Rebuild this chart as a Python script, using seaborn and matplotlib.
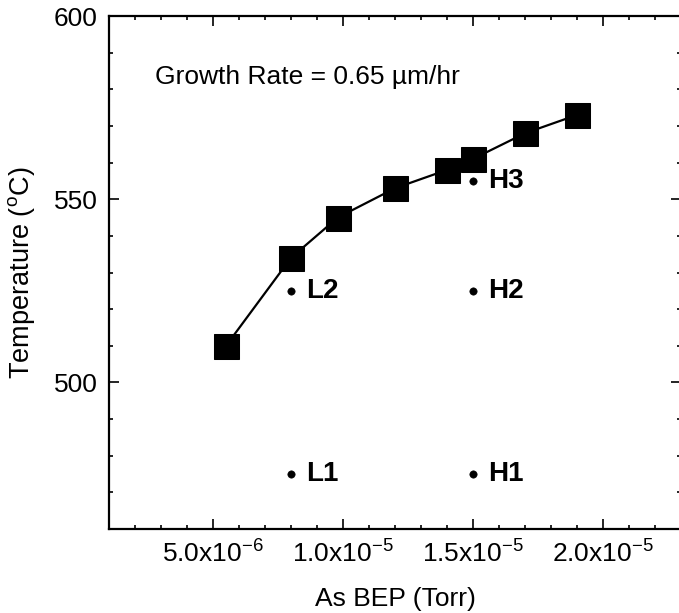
import matplotlib
matplotlib.use("Agg")
import matplotlib.pyplot as plt
from matplotlib.ticker import MultipleLocator, FixedLocator
import seaborn as sns
import pandas as pd

# Data
bep = [5.5e-6, 8.0e-6, 9.8e-6, 1.2e-5, 1.4e-5, 1.5e-5, 1.7e-5, 1.9e-5]
temp = [510, 534, 545, 553, 558, 561, 568, 573]
pt_labels = ["L1", "L2", "H1", "H2", "H3"]
pt_bep = [8.0e-6, 8.0e-6, 1.5e-5, 1.5e-5, 1.5e-5]
pt_temp = [475, 525, 475, 525, 555]
xticks = [5e-6, 1e-5, 1.5e-5, 2e-5]
xticklabels = [r"5.0x10$^{\mathsf{-6}}$", r"1.0x10$^{\mathsf{-5}}$",
               r"1.5x10$^{\mathsf{-5}}$", r"2.0x10$^{\mathsf{-5}}$"]
yticks = [500, 550, 600]

sns.set_theme(style="ticks")
plt.rcParams["font.family"] = ["Liberation Sans", "DejaVu Sans"]
plt.rcParams["mathtext.fontset"] = "custom"
plt.rcParams["mathtext.rm"] = "Liberation Sans"
plt.rcParams["mathtext.sf"] = "Liberation Sans"
plt.rcParams["mathtext.it"] = "Liberation Sans:italic"
for k in ["text.color", "axes.labelcolor", "xtick.color", "ytick.color",
          "axes.edgecolor"]:
    plt.rcParams[k] = "black"

fig = plt.figure(figsize=(6.79, 6.13), dpi=100)
ax = fig.add_axes([109/679, (613-529)/613, (681-109)/679, (529-16)/613])

df = pd.DataFrame({"bep": bep, "temp": temp})
sns.lineplot(data=df, x="bep", y="temp", ax=ax, color="black", lw=1.6,
             marker="s", markersize=18, markeredgecolor="black",
             markerfacecolor="black", sort=False)

dp = pd.DataFrame({"bep": pt_bep, "temp": pt_temp})
sns.scatterplot(data=dp, x="bep", y="temp", ax=ax, color="black", s=28,
                edgecolor="black", zorder=5)
for lab, x, y in zip(pt_labels, pt_bep, pt_temp):
    ax.annotate(lab, (x, y), xytext=(11, 0), textcoords="offset points",
                ha="left", va="center", fontsize=20, fontweight="bold",
                color="black")

ax.text(0.080, 0.881, "Growth Rate = 0.65 \u00b5m/hr", transform=ax.transAxes,
        ha="left", va="center", fontsize=19, color="black")

ax.set_xlim(1e-6, 2.3e-5)
ax.set_ylim(460, 600)
ax.xaxis.set_major_locator(FixedLocator(xticks))
ax.set_xticklabels(xticklabels)
ax.xaxis.set_minor_locator(MultipleLocator(1e-6))
ax.yaxis.set_major_locator(FixedLocator(yticks))
ax.yaxis.set_minor_locator(MultipleLocator(10))
ax.tick_params(which="both", direction="in", top=True, right=True,
               labelsize=19, width=1.2, colors="black")
ax.tick_params(which="major", length=7, pad=8)
ax.tick_params(which="minor", length=3)
for s in ax.spines.values():
    s.set_visible(True)
    s.set_linewidth(1.6)
    s.set_color("black")

ax.set_xlabel("As BEP (Torr)", fontsize=19, labelpad=14)
ax.set_ylabel(r"Temperature ($^{\mathsf{o}}$C)", fontsize=19.5, labelpad=12)

fig.savefig("out.png", dpi=100)
